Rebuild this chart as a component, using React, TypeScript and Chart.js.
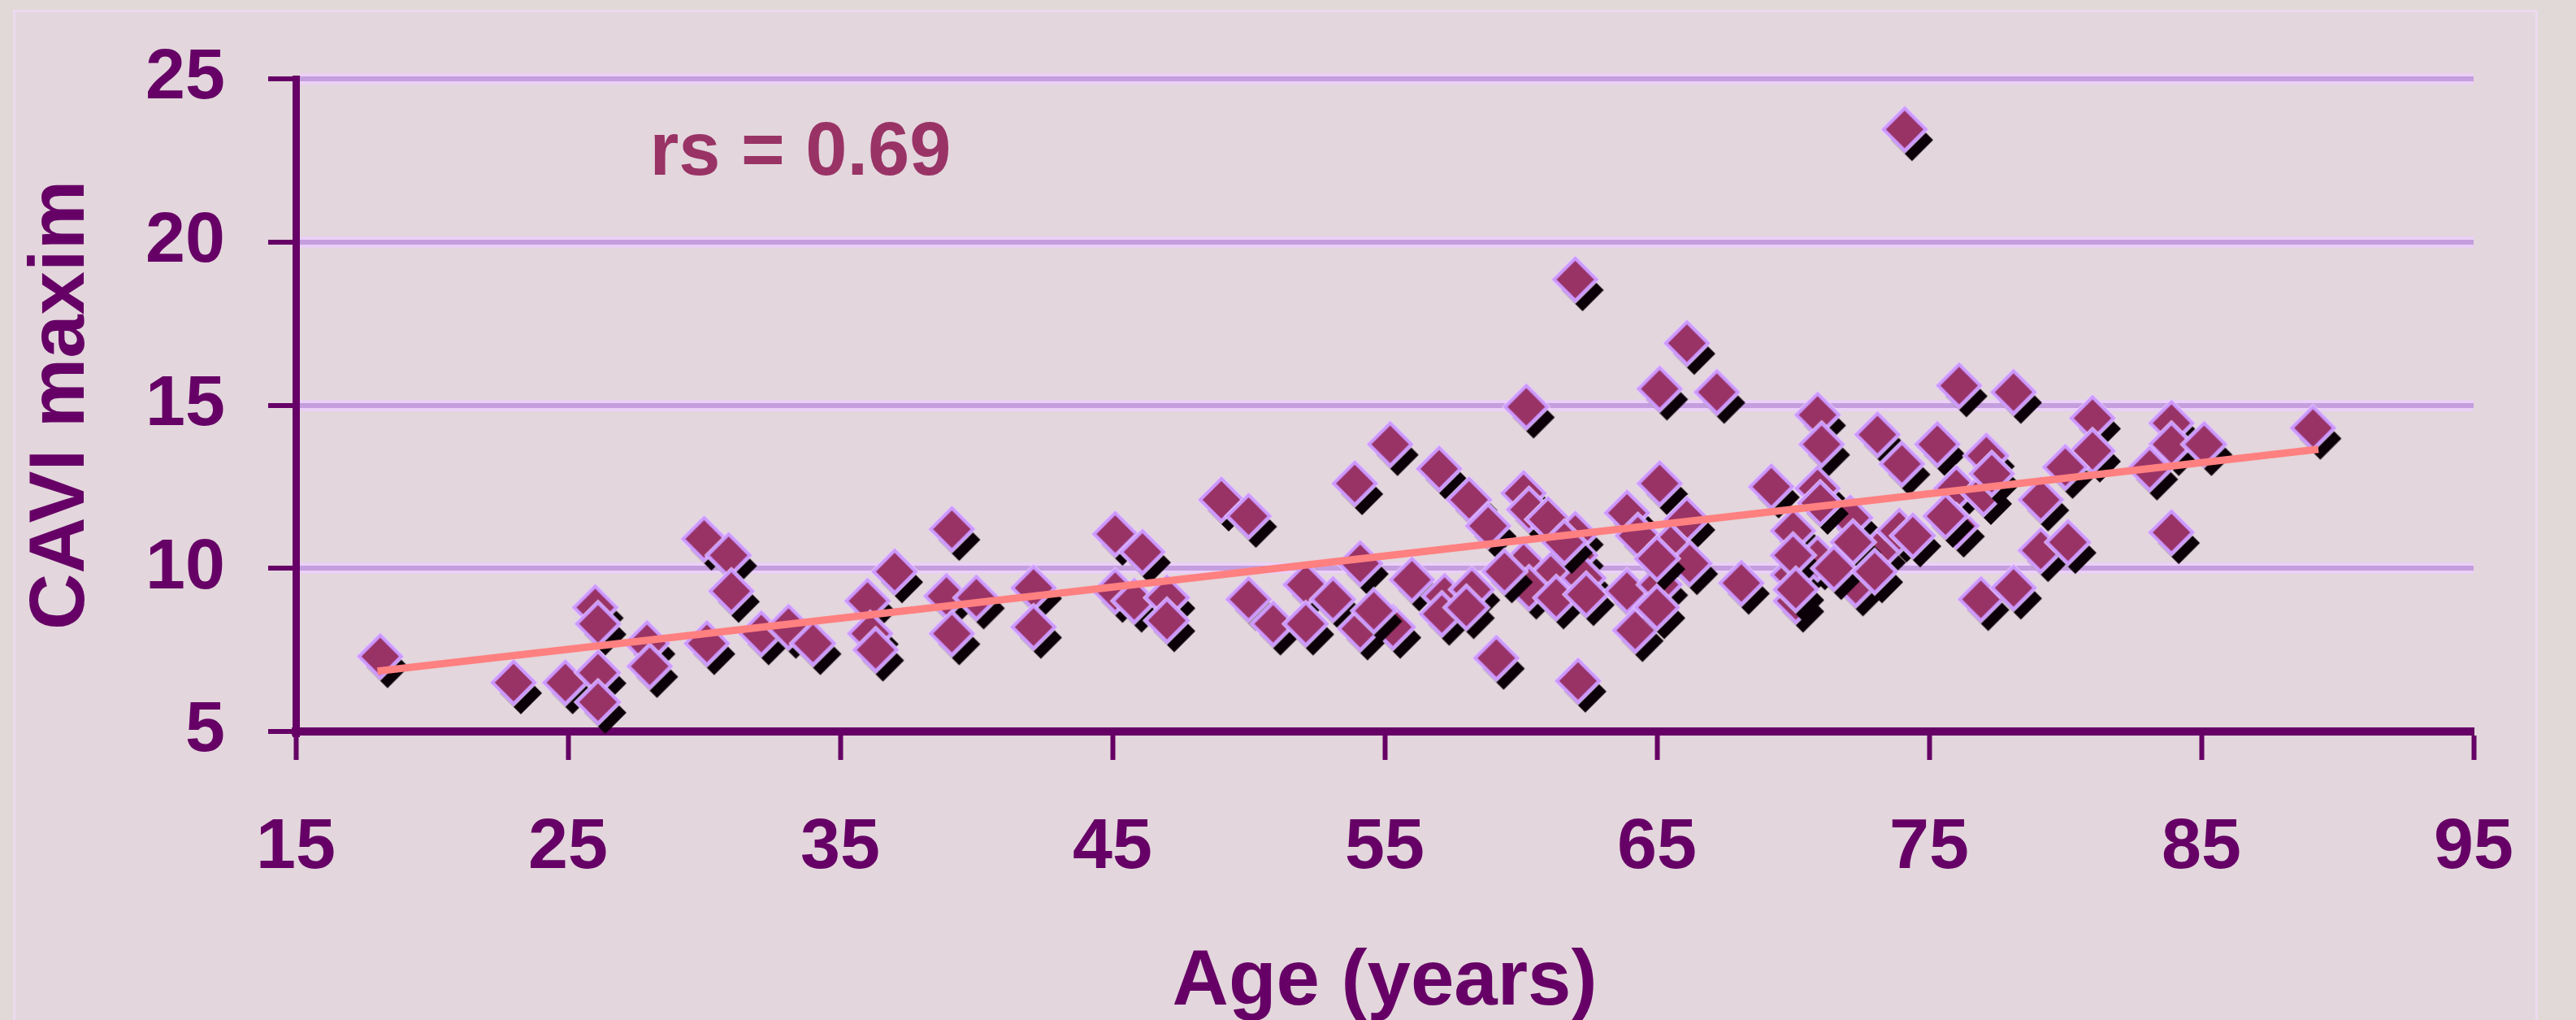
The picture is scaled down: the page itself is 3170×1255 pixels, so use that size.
import React, { useEffect, useRef } from "react";
import { Chart, registerables } from "chart.js";

Chart.register(...registerables);

// Age (years) of each subject
const ages = [
  18.1, 23.0, 24.9, 26.0, 26.1, 26.1, 26.1, 27.9, 28.0, 30.0, 30.9, 31.0, 30.1, 32.1, 33.1, 34.0,
  36.0, 37.0, 36.1, 36.3, 39.1, 38.9, 40.0, 39.1, 42.1, 42.1, 45.1, 46.1, 45.1, 45.8, 47.0, 47.0,
  49.0, 50.0, 50.0, 50.9, 52.1, 53.1, 52.1, 54.1, 54.1, 53.9, 55.2, 55.3, 54.6,
  56.0, 57.0, 58.1, 58.8, 57.2, 58.2, 57.1, 58.0, 59.1, 60.2, 60.1, 60.3, 61.0, 62.0, 62.0, 60.1,
  61.1, 60.3, 61.3, 62.3, 62.4, 62.1, 62.0, 61.6, 59.4,
  63.9, 65.1, 64.3, 66.1, 65.5, 66.2, 63.9, 65.1, 64.2, 65.1, 66.1, 67.2, 65.0, 65.0,
  68.1, 69.2, 70.9, 70.0, 70.0, 70.1, 70.9, 72.1, 72.3, 73.1, 73.9, 70.9, 71.05, 73.1, 74.0, 74.1,
  70.0, 70.1, 72.2, 71.0, 74.4, 71.5, 73.0,
  75.3, 76.1, 78.1, 77.1, 81.0, 81.0, 80.0, 83.9, 83.9, 85.1, 83.1, 83.9, 89.1, 76.0, 77.0, 76.0,
  79.1, 79.1, 80.1, 76.9, 78.1, 75.6, 77.3,
];

// CAVI maxim of each subject (same order as ages)
const cavi = [
  7.3, 6.5, 6.5, 8.8, 8.3, 6.8, 5.9, 7.7, 7.0, 10.9, 10.4, 9.3, 7.7, 8.0, 8.2, 7.7,
  9.0, 9.9, 8.0, 7.5, 11.2, 9.15, 9.1, 8.0, 9.4, 8.2, 11.05, 10.5, 9.3, 9.0, 9.1, 8.4,
  12.1, 11.6, 9.05, 8.3, 9.5, 9.05, 8.3, 10.15, 8.15, 12.6, 13.8, 8.2, 8.7,
  9.65, 13.05, 12.1, 11.3, 9.15, 9.35, 8.6, 8.8, 7.25, 14.95, 12.3, 11.8, 11.5, 11.05, 10.4, 10.15,
  9.8, 9.4, 9.1, 9.7, 9.2, 6.55, 18.85, 10.8, 9.9,
  11.7, 12.6, 11.0, 11.5, 10.7, 10.15, 9.3, 9.5, 8.1, 15.5, 16.9, 15.4, 8.8, 10.3,
  9.55, 12.5, 12.45, 11.15, 9.8, 9.0, 10.3, 11.55, 9.5, 10.5, 11.15, 14.7, 13.8, 14.1, 13.2, 23.45,
  10.4, 9.35, 10.8, 12.0, 11.0, 10.0, 9.9,
  13.8, 15.6, 15.4, 13.45, 14.6, 13.6, 13.1, 14.45, 13.8, 13.8, 13.05, 11.1, 14.3, 12.45, 12.3, 11.3,
  12.1, 10.55, 10.8, 9.05, 9.4, 11.6, 12.9,
];

// Regression line end points
const trendAges = [18.0, 89.3];
const trendCavi = [6.85, 13.65];

// Axis ticks
const xTickValues = [15, 25, 35, 45, 55, 65, 75, 85, 95];
const yTickValues = [5, 10, 15, 20, 25];

// Annotation
const rsText = "rs = 0.69";
const rsAge = 28.0;
const rsCavi = 22.7;

const FONT = '"Liberation Sans", Arial, sans-serif';
const AXIS = "#660066";

function makeMarker(): HTMLCanvasElement {
  const c = document.createElement("canvas");
  const S = 110;
  c.width = S;
  c.height = S;
  const ctx = c.getContext("2d")!;
  const cx = S / 2;
  const cy = S / 2;
  const r = 26;
  const dia = (x: number, y: number, rr: number) => {
    ctx.beginPath();
    ctx.moveTo(x, y - rr);
    ctx.lineTo(x + rr, y);
    ctx.lineTo(x, y + rr);
    ctx.lineTo(x - rr, y);
    ctx.closePath();
  };
  // black drop shadow
  ctx.fillStyle = "#0c0008";
  dia(cx + 9, cy + 13, r);
  ctx.fill();
  // soft halo
  dia(cx, cy, r + 2);
  ctx.strokeStyle = "rgba(236, 210, 250, 0.9)";
  ctx.lineWidth = 3;
  ctx.stroke();
  // marker
  dia(cx, cy, r);
  ctx.fillStyle = "#993366";
  ctx.fill();
  ctx.strokeStyle = "#cc99ff";
  ctx.lineWidth = 4;
  ctx.stroke();
  return c;
}

const rsPlugin = {
  id: "rsLabel",
  afterDatasetsDraw(chart: any) {
    const { ctx, scales } = chart;
    const x = scales.x.getPixelForValue(rsAge);
    const y = scales.y.getPixelForValue(rsCavi);
    ctx.save();
    ctx.font = `bold 92px ${FONT}`;
    ctx.fillStyle = "#993366";
    ctx.textAlign = "left";
    ctx.textBaseline = "middle";
    ctx.fillText(rsText, x, y);
    ctx.restore();
  },
};

export default function App() {
  const ref = useRef<HTMLCanvasElement | null>(null);

  useEffect(() => {
    document.body.style.margin = "0";
    document.body.style.overflow = "hidden";
    const canvas = ref.current;
    if (!canvas) return;
    const marker = makeMarker();

    const points = ages.map((a, i) => ({ x: a, y: cavi[i] }));
    const trend = trendAges.map((a, i) => ({ x: a, y: trendCavi[i] }));

    const chart = new Chart(canvas, {
      type: "scatter",
      data: {
        datasets: [
          {
            data: trend,
            showLine: true,
            borderColor: "#ff8080",
            borderWidth: 9,
            pointRadius: 0,
            order: 0,
            clip: false,
          } as any,
          {
            data: points,
            pointStyle: marker as any,
            pointRadius: 27,
            order: 1,
            clip: false,
          } as any,
        ],
      },
      options: {
        animation: false,
        responsive: false,
        devicePixelRatio: 1,
        layout: { padding: { left: 0, top: 96, right: 126, bottom: 0 } },
        plugins: {
          legend: { display: false },
          tooltip: { enabled: false },
        },
        scales: {
          x: {
            type: "linear",
            position: "bottom",
            min: 15,
            max: 95,
            afterBuildTicks: (s: any) => {
              s.ticks = xTickValues.map((v) => ({ value: v }));
            },
            afterFit: (s: any) => {
              s.height = 355;
            },
            ticks: {
              color: AXIS,
              font: { family: FONT, size: 88, weight: "bold", lineHeight: 1 },
              padding: 65,
              maxRotation: 0,
              autoSkip: false,
            },
            grid: {
              drawOnChartArea: false,
              drawTicks: true,
              tickLength: 35,
              tickColor: AXIS,
              tickWidth: 6,
            },
            border: { display: true, color: AXIS, width: 10 },
            title: {
              display: true,
              text: "Age (years)",
              color: AXIS,
              font: { family: FONT, size: 96, weight: "bold", lineHeight: 1 },
              padding: { top: 0, bottom: -3 },
            },
          },
          y: {
            type: "linear",
            position: "left",
            min: 5,
            max: 25,
            afterBuildTicks: (s: any) => {
              s.ticks = yTickValues.map((v) => ({ value: v }));
            },
            afterFit: (s: any) => {
              s.width = 364;
            },
            ticks: {
              color: AXIS,
              font: { family: FONT, size: 88, weight: "bold", lineHeight: 1 },
              padding: 53,
              autoSkip: false,
            },
            grid: {
              z: -2,
              color: (c: any) => (c.tick && c.tick.value === 5 ? "rgba(0,0,0,0)" : "#ebd0f6"),
              lineWidth: 14,
              drawTicks: true,
              tickLength: 34,
              tickColor: AXIS,
              tickWidth: 6,
            },
            border: { display: true, color: AXIS, width: 9 },
            title: {
              display: true,
              text: "CAVI maxim",
              color: AXIS,
              font: { family: FONT, size: 96, weight: "bold", lineHeight: 1 },
              padding: { top: 29, bottom: 0 },
            },
          },
          y2: {
            type: "linear",
            position: "left",
            min: 5,
            max: 25,
            afterBuildTicks: (s: any) => {
              s.ticks = yTickValues.map((v) => ({ value: v }));
            },
            afterFit: (s: any) => {
              s.width = 0;
            },
            ticks: { display: false },
            grid: {
              z: -1,
              color: (c: any) => (c.tick && c.tick.value === 5 ? "rgba(0,0,0,0)" : "#c49ede"),
              lineWidth: 6,
              drawTicks: false,
            },
            border: { display: false },
          },
        },
      } as any,
      plugins: [rsPlugin],
    });

    return () => chart.destroy();
  }, []);

  return (
    <div
      style={{
        position: "absolute",
        left: 0,
        top: 0,
        width: 3170,
        height: 1255,
        background: "#e0d9d7",
        overflow: "hidden",
      }}
    >
      <div
        style={{
          position: "absolute",
          left: 16,
          top: 12,
          width: 3101,
          height: 1250,
          background: "#e3d6dc",
          borderTop: "3px solid #ecdaf0",
          borderLeft: "3px solid #ecdaf0",
          borderRight: "3px solid #ecdaf0",
        }}
      />
      <canvas
        ref={ref}
        width={3170}
        height={1255}
        style={{ position: "absolute", left: 0, top: 0, width: 3170, height: 1255 }}
      />
    </div>
  );
}
